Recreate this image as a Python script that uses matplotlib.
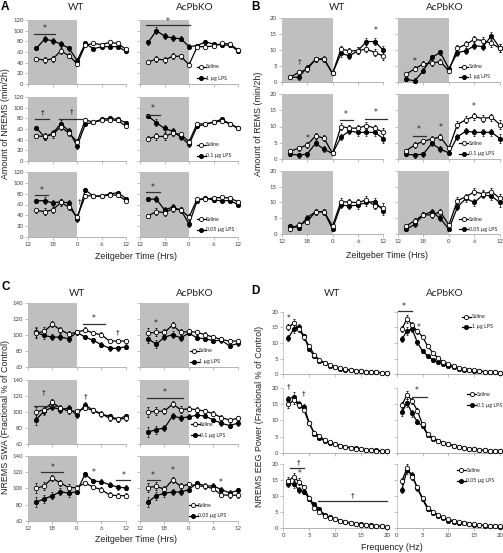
import matplotlib
matplotlib.use("Agg")
import matplotlib.pyplot as plt

W, H = 503, 553

# ---------------- data ----------------
zt = [2, 4, 6, 8, 10, 12, 14, 16, 18, 20, 22, 24]   # 2h bins, ZT12 -> ZT12
zt_ticks = [0, 6, 12, 18, 24]
zt_labels = ["12", "18", "0", "6", "12"]
hz = list(range(1, 21))
hz_ticks = [0, 5, 10, 15, 20]
doses = ["1 µg LPS", "0.1 µg LPS", "0.05 µg LPS"]

# A: amount of NREMS (min/2h), rows = dose
a_wt_sal = [[47, 45, 47, 62, 53, 38, 73, 76, 74, 78, 76, 65],
            [47, 46, 50, 64, 52, 36, 77, 73, 76, 77, 76, 65],
            [49, 47, 50, 64, 55, 37, 76, 76, 75, 78, 77, 67]]
a_wt_lps = [[67, 84, 81, 75, 67, 44, 76, 66, 70, 70, 70, 61],
            [62, 45, 52, 70, 56, 28, 69, 73, 78, 80, 78, 72],
            [67, 67, 63, 65, 63, 33, 87, 75, 76, 79, 82, 71]]
a_ko_sal = [[41, 47, 45, 52, 52, 36, 70, 70, 71, 76, 75, 64],
            [42, 46, 46, 52, 50, 36, 70, 69, 73, 75, 70, 61],
            [39, 47, 45, 52, 50, 37, 70, 70, 72, 73, 72, 65]]
a_ko_lps = [[78, 100, 90, 86, 85, 70, 72, 79, 75, 73, 73, 62],
            [84, 72, 61, 56, 45, 31, 65, 69, 73, 78, 70, 62],
            [70, 70, 50, 55, 50, 24, 67, 72, 68, 67, 67, 60]]
a_err = [4, 6, 6, 6, 5, 5, 3, 3, 3, 3, 3, 3]

# B: amount of REMS (min/2h)
b_wt_sal = [[1.5, 3.0, 4.0, 7.1, 7.1, 2.7, 10.3, 9.8, 9.8, 10.4, 9.2, 8.2],
            [2.4, 3.3, 4.3, 7.1, 6.4, 1.7, 10.0, 9.5, 9.5, 10.3, 9.5, 8.2],
            [1.6, 3.0, 4.0, 7.1, 7.1, 2.6, 10.3, 10.1, 10.0, 10.8, 9.0, 8.4]]
b_wt_lps = [[1.5, 1.5, 4.5, 7.1, 7.3, 2.7, 9.0, 8.2, 9.8, 12.7, 12.7, 10.0],
            [1.5, 1.2, 1.5, 4.8, 3.0, 1.7, 6.8, 8.6, 8.2, 8.2, 8.2, 6.3],
            [2.6, 2.1, 5.2, 7.1, 7.1, 1.7, 9.2, 8.9, 9.2, 10.0, 10.3, 7.4]]
b_ko_sal = [[2.5, 4.1, 5.7, 5.9, 6.4, 3.5, 10.6, 11.8, 13.4, 13.0, 12.1, 10.6],
            [2.6, 4.3, 5.5, 6.1, 6.8, 3.3, 10.6, 12.1, 13.1, 12.4, 12.9, 10.6],
            [2.6, 4.3, 6.1, 6.1, 7.1, 2.9, 10.6, 11.8, 13.4, 12.7, 13.4, 11.3]]
b_ko_lps = [[0.8, 0.4, 3.5, 7.7, 9.3, 4.2, 9.2, 9.8, 11.4, 11.1, 14.5, 10.6],
            [1.5, 1.2, 1.5, 4.8, 3.0, 1.9, 6.8, 8.6, 8.2, 8.2, 8.2, 6.3],
            [1.6, 3.1, 6.1, 7.1, 5.0, 1.6, 8.5, 11.3, 10.0, 12.4, 12.0, 10.0]]
b_err = [0.5, 0.8, 0.8, 0.9, 0.9, 0.6, 1.0, 1.0, 1.1, 1.1, 1.1, 1.3]

# C: NREMS SWA (% of control)
c_wt_sal = [[102, 104, 113, 106, 101, 103, 106, 102, 100, 92, 92, 92],
            [100, 103, 112, 105, 101, 101, 105, 102, 98, 92, 91, 92],
            [100, 103, 112.5, 106.5, 101, 101, 106.5, 101.6, 98.4, 92, 91, 91]]
c_wt_lps = [[103, 99, 97, 97, 95, 103, 97, 93, 87.5, 83, 83, 85],
            [90, 101, 106, 103, 105, 96, 109, 102, 97, 95, 91, 95],
            [83, 87, 91, 96, 94, 96, 117.5, 109, 108, 104.5, 101.5, 100.5]]
c_ko_sal = [[102, 103, 103, 112, 103, 104, 103, 100, 97, 94, 92, 92],
            [100, 101, 101, 110, 103, 104, 103, 101, 98, 93, 90, 92],
            [101, 102.5, 99, 110.5, 102.5, 105, 103, 102.5, 99.5, 92, 91.5, 91.5]]
c_ko_lps = [[95, 88, 97, 100, 96, 102, 96, 95, 92.5, 93, 86, 89],
            [75, 78, 80, 95, 92.5, 94, 96, 95, 90, 86, 83, 86],
            [83.5, 91, 94, 95.5, 95.5, 98.5, 106.5, 103, 103, 98.5, 94.5, 97.5]]
c_err = [6, 5, 4, 4, 4, 3, 3, 3, 3, 3, 3, 3]

# D: NREMS EEG power spectrum (% of control)
d_wt_sal = [[15.0, 16.3, 14.5, 11.8, 9.0, 6.2, 4.6, 3.7, 3.0, 2.4, 2.0, 1.6, 1.4, 1.2, 1.0, 0.85, 0.75, 0.65, 0.55, 0.45],
            [15.0, 16.3, 14.8, 13.3, 9.1, 6.2, 5.2, 3.9, 3.2, 2.6, 2.2, 1.8, 1.5, 1.2, 1.0, 0.8, 0.7, 0.6, 0.5, 0.4],
            [14.9, 16.1, 14.6, 12.8, 9.4, 6.3, 5.2, 3.9, 3.3, 2.8, 2.3, 1.9, 1.6, 1.4, 1.1, 1.0, 0.85, 0.7, 0.6, 0.5]]
d_wt_lps = [[11.7, 14.4, 15.2, 12.2, 8.0, 5.9, 4.4, 3.5, 2.8, 2.2, 1.8, 1.5, 1.3, 1.1, 1.0, 0.85, 0.7, 0.6, 0.5, 0.45],
            [16.7, 17.4, 15.0, 14.3, 9.3, 5.8, 4.5, 3.7, 3.1, 2.7, 2.2, 1.9, 1.6, 1.35, 1.1, 0.9, 0.8, 0.7, 0.6, 0.5],
            [13.9, 13.9, 12.0, 11.5, 9.2, 7.5, 5.9, 4.2, 3.4, 2.9, 2.4, 2.1, 1.7, 1.5, 1.3, 1.0, 0.9, 0.75, 0.6, 0.5]]
d_ko_sal = [[14.5, 17.7, 15.7, 13.8, 12.0, 9.0, 6.9, 5.1, 4.0, 3.3, 2.7, 2.1, 1.8, 1.5, 1.3, 1.1, 0.85, 0.75, 0.65, 0.55],
            [14.8, 18.0, 16.1, 13.0, 8.8, 5.7, 4.7, 3.7, 3.1, 2.6, 2.2, 1.8, 1.5, 1.2, 1.0, 0.85, 0.7, 0.6, 0.5, 0.45],
            [14.8, 18.75, 16.1, 12.8, 9.4, 6.5, 5.2, 4.2, 3.4, 2.8, 2.4, 2.1, 1.8, 1.5, 1.2, 1.0, 0.9, 0.8, 0.7, 0.6]]
d_ko_lps = [[11.2, 13.9, 14.4, 10.2, 7.4, 5.9, 4.6, 3.8, 3.2, 2.7, 2.2, 1.8, 1.5, 1.3, 1.1, 0.9, 0.8, 0.7, 0.6, 0.5],
            [12.5, 15.5, 12.2, 9.6, 8.3, 5.5, 4.2, 3.6, 3.0, 2.6, 2.2, 1.8, 1.5, 1.2, 1.0, 0.85, 0.7, 0.6, 0.5, 0.45],
            [12.0, 18.2, 16.7, 12.5, 9.1, 6.0, 4.9, 3.9, 3.2, 2.4, 2.1, 1.8, 1.6, 1.4, 1.1, 1.0, 0.85, 0.7, 0.6, 0.5]]
d_err = [1.0, 1.3, 1.0, 0.8, 0.6, 0.4, 0.3, 0.3, 0.2, 0.2, 0.2, 0.2, 0.1, 0.1, 0.1, 0.1, 0.1, 0.1, 0.1, 0.1]

# significance marks: (row, col, x0, x1, y) bars and (row, col, symbol, x, y)
a_bars = [(0, 0, 1.5, 6.6, 94), (0, 1, 1.4, 12.3, 111), (1, 0, 1.6, 5.2, 78), (1, 0, 7.6, 13.1, 79),
          (1, 1, 1.4, 4.8, 87), (2, 0, 1.6, 4.9, 77.5), (2, 1, 1.4, 4.8, 83)]
a_marks = [(0, 0, "*", 4.0, 104), (0, 1, "*", 6.8, 118), (1, 0, "†", 3.5, 91), (1, 0, "†", 10.7, 92),
           (1, 1, "*", 3.1, 98), (2, 0, "*", 3.2, 86), (2, 0, "†", 12.6, 65), (2, 1, "*", 3.1, 92)]
b_bars = [(1, 0, 13.8, 16.8, 11.9), (1, 0, 19.7, 24.8, 12.4), (1, 1, 3.5, 6.6, 7.2)]
b_marks = [(0, 0, "†", 4.2, 6.3), (0, 0, "*", 22.1, 16.3), (0, 1, "*", 3.9, 6.4), (1, 0, "*", 6.1, 6.4),
           (1, 0, "*", 15.2, 13.8), (1, 0, "*", 22.3, 14.4), (1, 1, "*", 5.0, 9.1), (1, 1, "*", 10.1, 9.8),
           (1, 1, "*", 17.9, 16.1)]
c_bars = [(0, 0, 13.5, 18.9, 113), (1, 0, 1.6, 7.0, 107.5), (1, 1, 1.6, 10.6, 118),
          (2, 0, 3.3, 8.6, 120), (2, 0, 21.6, 25.0, 110), (2, 1, 1.6, 4.8, 110)]
c_marks = [(0, 0, "*", 16.2, 120), (0, 0, "†", 22.0, 103), (0, 1, "*", 3.8, 114), (1, 0, "†", 3.9, 124),
           (1, 0, "†", 14.1, 119), (1, 1, "*", 6.0, 125), (2, 0, "*", 6.0, 126), (2, 0, "*", 16.2, 119),
           (2, 0, "*", 23.4, 116), (2, 1, "*", 3.1, 116), (2, 1, "*", 8.0, 122), (2, 1, "*", 19.9, 107)]
d_bars = [(0, 1, 0.3, 2.9, 20.2), (1, 1, 2.9, 5.8, 17.2), (2, 0, 1.2, 4.1, 18.75), (2, 0, 6.8, 20.1, 8.5)]
d_marks = [(0, 0, "*", 1.0, 17.8), (0, 1, "*", 1.4, 21.8), (0, 1, "*", 4.2, 15.0), (1, 0, "†", 1.0, 20.5),
           (1, 0, "†", 4.0, 18.5), (1, 1, "*", 3.9, 19.3), (2, 0, "†", 2.9, 20.6), (2, 0, "*", 3.1, 17.0),
           (2, 0, "†", 13.4, 10.4)]

# ---------------- layout (pixels) ----------------
fig = plt.figure(figsize=(W / 100, H / 100), dpi=100)
fig.patch.set_facecolor("white")


def fx(x):
    return x / W


def fy(y):
    return 1 - y / H


def panel(cols, rows, xs, ticks, ticklabels, xlim, ylim, yticks, shade,
          wt_sal, wt_lps, ko_sal, ko_lps, err, bars, marks, leg):
    groups = [(wt_sal, wt_lps), (ko_sal, ko_lps)]
    for r, (yt, yb) in enumerate(rows):
        for c, (x0, x1) in enumerate(cols):
            ax = fig.add_axes([fx(x0), fy(yb), (x1 - x0) / W, (yb - yt) / H])
            ax.set_xlim(*xlim)
            ax.set_ylim(*ylim)
            if shade:
                ax.axvspan(0, 12, color="#bfbfbf", lw=0, zorder=0)
            sal, lps = groups[c]
            ax.errorbar(xs, lps[r], yerr=err, color="black", marker="o", ms=3.2, mfc="black",
                        mec="black", mew=0.5, lw=0.9, elinewidth=0.45, capsize=0.8,
                        capthick=0.45, zorder=3, clip_on=False)
            ax.errorbar(xs, sal[r], yerr=err, color="black", marker="o", ms=3.2, mfc="white",
                        mec="black", mew=0.6, lw=0.9, elinewidth=0.45, capsize=0.8,
                        capthick=0.45, zorder=4, clip_on=False)
            for (rr, cc, b0, b1, by) in bars:
                if rr == r and cc == c:
                    ax.plot([b0, b1], [by, by], color="#303030", lw=0.9, clip_on=False, zorder=5)
            for (rr, cc, s, sx, sy) in marks:
                if rr == r and cc == c:
                    ax.text(sx, sy, s, ha="center", va="center", fontsize=5.5 if s == "*" else 5,
                            family="DejaVu Sans", color="#202020", zorder=6)
            ax.set_xticks(ticks)
            ax.set_yticks(yticks)
            if r == len(rows) - 1:
                ax.set_xticklabels(ticklabels)
            else:
                ax.set_xticklabels([])
            if c == 1:
                ax.set_yticklabels([])
            for s in ("top", "right"):
                ax.spines[s].set_visible(False)
            ax.spines["left"].set_color("#bfbfbf")
            ax.spines["bottom"].set_color("#a6a6a6")
            ax.spines["left"].set_linewidth(0.6)
            ax.spines["bottom"].set_linewidth(0.6)
            ax.tick_params(direction="out", length=2, width=0.5, color="#a6a6a6",
                           labelsize=4.3, labelcolor="#404040", pad=1.5)
            for t in ax.get_xticklabels() + ax.get_yticklabels():
                t.set_family("Lato")
            ax.set_facecolor("none")
            if c == 1 or leg[r][3]:
                lx, ly1, ly2, _ = leg[r]
                if c == 1:
                    for yy, face, lab in ((ly1, "white", "Saline"), (ly2, "black", doses[r])):
                        ax.plot([lx, lx + 0.09], [yy, yy], color="black", lw=0.9,
                                transform=ax.transAxes, clip_on=False, zorder=6)
                        ax.plot([lx + 0.045], [yy], marker="o", ms=3.0, mfc=face, mec="black",
                                mew=0.6, transform=ax.transAxes, clip_on=False, zorder=7)
                        ax.text(lx + 0.095, yy, lab, transform=ax.transAxes, fontsize=3.9,
                                va="center", ha="left", family="Lato", color="#202020")


# Panel A
panel([(28.3, 126), (140, 238)], [(20, 84), (97, 161), (172, 237)],
      zt, zt_ticks, zt_labels, (0, 24), (0, 120), [0, 20, 40, 60, 80, 100, 120], True,
      a_wt_sal, a_wt_lps, a_ko_sal, a_ko_lps, a_err, a_bars, a_marks,
      [(0.58, 0.27, 0.09, False), (0.58, 0.25, 0.08, False), (0.58, 0.27, 0.11, False)])
# Panel B
panel([(281.7, 383.3), (397.7, 500)], [(18.3, 82), (94, 159), (170.7, 234.3)],
      zt, zt_ticks, zt_labels, (0, 24), (0, 20), [0, 5, 10, 15, 20], True,
      b_wt_sal, b_wt_lps, b_ko_sal, b_ko_lps, b_err, b_bars, b_marks,
      [(0.60, 0.24, 0.08, False), (0.60, 0.24, 0.08, False), (0.60, 0.235, 0.08, False)])
# Panel C
panel([(27.7, 126), (140, 237.7)], [(302.7, 366.7), (380, 444), (455.7, 521)],
      zt, zt_ticks, zt_labels, (0, 24), (60, 140), [60, 80, 100, 120, 140], True,
      c_wt_sal, c_wt_lps, c_ko_sal, c_ko_lps, c_err, c_bars, c_marks,
      [(0.51, 0.25, 0.08, False), (0.52, 0.31, 0.14, False), (0.50, 0.245, 0.077, False)])
# Panel D
panel([(283.3, 386.7), (396.7, 500)], [(311.7, 374.3), (388.3, 452.7), (464.3, 528.3)],
      hz, hz_ticks, [str(t) for t in hz_ticks], (0, 20), (0, 20), [0, 5, 10, 15, 20], False,
      d_wt_sal, d_wt_lps, d_ko_sal, d_ko_lps, d_err, d_bars, d_marks,
      [(0.63, 0.92, 0.76, False), (0.68, 0.91, 0.74, False), (0.58, 0.91, 0.74, False)])

# titles, panel letters, axis labels
for (x, y, s) in [(76, 7, "WT"), (195, 7, "AcPbKO"), (336.5, 7, "WT"), (445, 7, "AcPbKO"),
                  (76.5, 293, "WT"), (195, 293, "AcPbKO"), (332, 293, "WT"), (445, 293, "AcPbKO")]:
    fig.text(fx(x), fy(y), s, ha="center", va="center", fontsize=7.2, family="Lato", color="#202020")
for (x, y, s) in [(1, 7, "A"), (251, 7, "B"), (1, 287, "C"), (251, 291, "D")]:
    fig.text(fx(x), fy(y), s, ha="left", va="center", fontsize=8.5, fontweight="bold",
             family="Liberation Sans")
for (x, y, s) in [(5.5, 124, "Amount of NREMS (min/2h)"), (258.5, 124, "Amount of REMS (min/2h)"),
                  (5.5, 417, "NREMS SWA (Fractional % of Control)"),
                  (259.5, 416, "NREMS EEG Power (Fractional % of Control)")]:
    fig.text(fx(x), fy(y), s, ha="center", va="center", rotation=90, fontsize=6.4,
             family="Liberation Sans", color="#202020")
for (x, y, s) in [(136, 256.7, "Zeitgeber Time (Hrs)"), (387, 256, "Zeitgeber Time (Hrs)"),
                  (136, 540, "Zeitgeber Time (Hrs)"), (391.5, 547, "Frequency (Hz)")]:
    fig.text(fx(x), fy(y), s, ha="center", va="center", fontsize=6.4,
             family="Liberation Sans", color="#202020")

fig.savefig("out.png", dpi=100, facecolor="white")
